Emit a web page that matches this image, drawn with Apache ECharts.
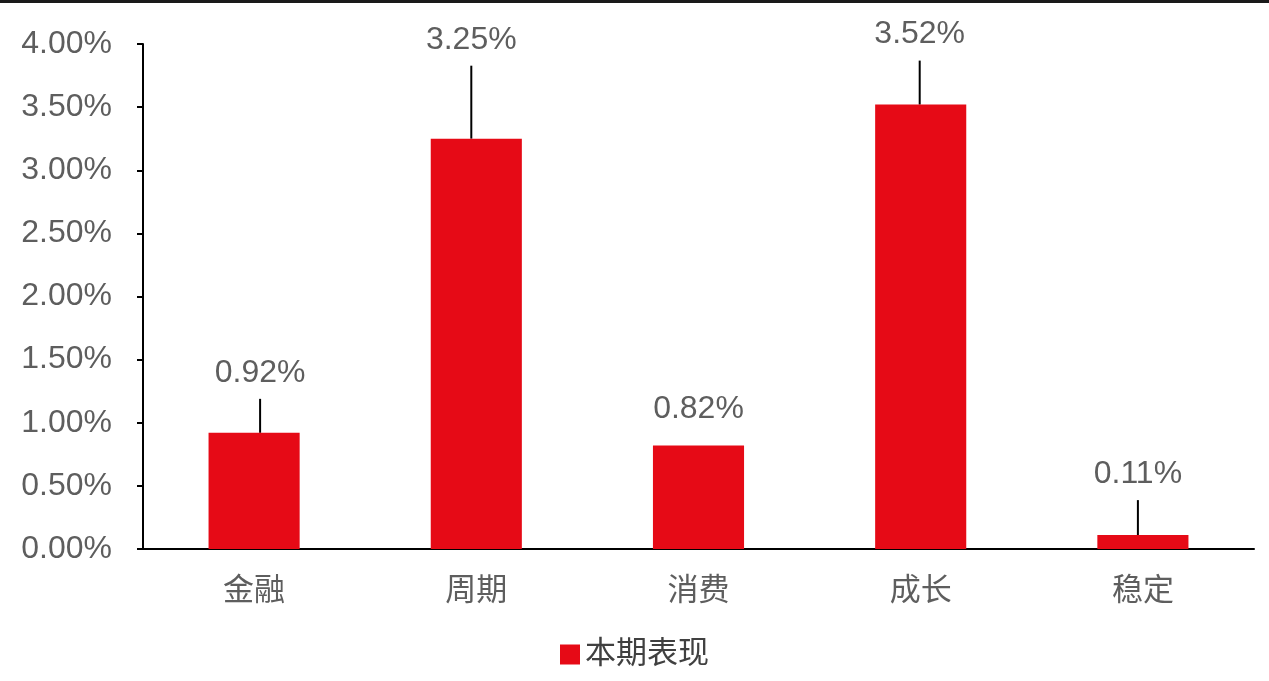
<!DOCTYPE html>
<html>
<head>
<meta charset="utf-8">
<script src="https://cdn.jsdelivr.net/npm/echarts@6/dist/echarts.min.js"></script>
<style>
html,body{margin:0;padding:0;background:#fff;}
#chart{width:1269px;height:681px;}
</style>
</head>
<body>
<div id="chart"></div>
<script>
const categories = ['金融', '周期', '消费', '成长', '稳定'];
const values = [0.92, 3.25, 0.82, 3.52, 0.11];
const seriesName = '本期表现';
const yTicks = [0, 0.5, 1, 1.5, 2, 2.5, 3, 3.5, 4];

// label offsets (style only)
const labelShift = [[6, -29], [-5, -68], [0, -5], [-1, -39], [-5, -30]];

const chart = echarts.init(document.getElementById('chart'));
const FONT = '"Liberation Sans", Arial, "Noto Sans CJK SC", sans-serif';
const GRAY = '#5e5e5e';
const RED = '#E60A16';

chart.setOption({
  animation: false,
  textStyle: { fontFamily: FONT },
  graphic: [{
    type: 'rect', left: 0, top: 0,
    shape: { width: 1269, height: 3 },
    style: { fill: '#1a1a1a' }
  }],
  grid: { left: 143, right: 15, top: 44, bottom: 132, containLabel: false },
  legend: {
    bottom: 6, left: 'center',
    itemWidth: 20, itemHeight: 20, itemGap: 8,
    icon: 'rect',
    textStyle: { fontSize: 31, color: '#404040', fontFamily: FONT },
    data: [seriesName]
  },
  xAxis: {
    type: 'category',
    data: categories,
    axisLine: { lineStyle: { color: '#000', width: 2 } },
    axisTick: { show: false },
    axisLabel: { fontSize: 31, color: GRAY, margin: 27, fontFamily: FONT }
  },
  yAxis: {
    type: 'value',
    min: yTicks[0], max: yTicks[yTicks.length - 1], interval: 0.5,
    splitLine: { show: false },
    axisLine: { show: true, lineStyle: { color: '#000', width: 2 } },
    axisTick: { show: true, length: 6, inside: false, lineStyle: { color: '#000', width: 2 } },
    axisLabel: {
      fontSize: 32, color: GRAY, margin: 31, fontFamily: FONT,
      formatter: v => v.toFixed(2) + '%'
    }
  },
  series: [{
    name: seriesName,
    type: 'bar',
    barWidth: '41%',
    itemStyle: { color: RED },
    data: values.map((v, i) => i === 2 ? { value: v, labelLine: { show: false } } : v),
    label: {
      show: true, position: 'top', distance: 5,
      fontSize: 32, color: GRAY, fontFamily: FONT,
      padding: [0, 0, 10, 0],
      backgroundColor: 'rgba(255,255,255,0)',
      formatter: p => p.value.toFixed(2) + '%'
    },
    labelLine: { show: true, lineStyle: { color: '#000', width: 2 } },
    labelLayout: p => ({ dx: labelShift[p.dataIndex][0], dy: labelShift[p.dataIndex][1] })
  }]
});
</script>
</body>
</html>
